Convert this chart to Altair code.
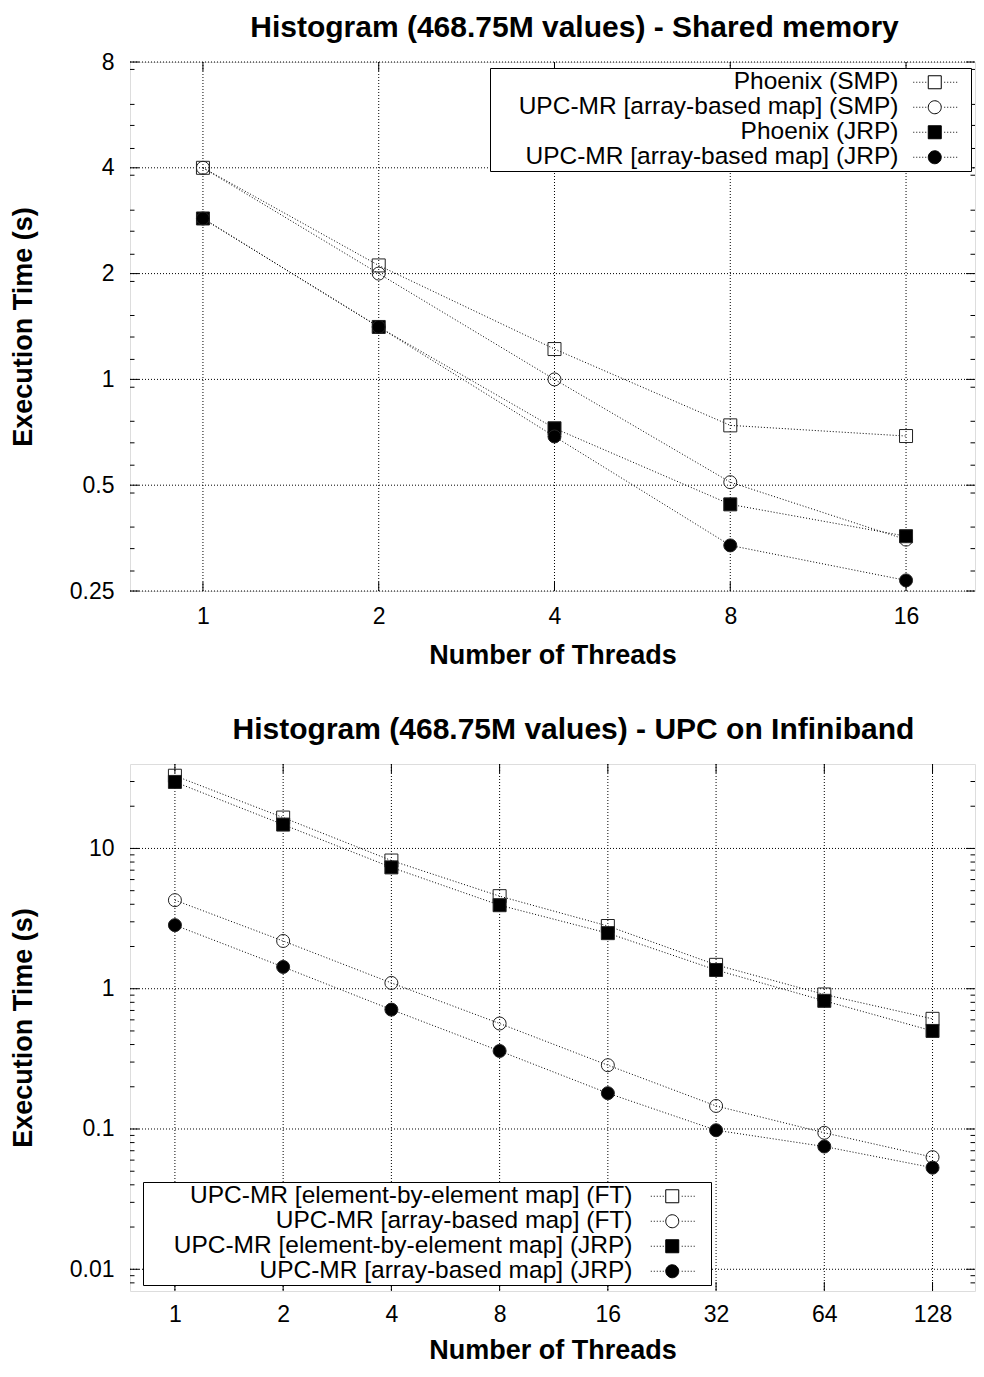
import altair as alt
import pandas as pd

FONT = "Liberation Sans"

# ---------------- data: top panel (shared memory) ----------------
top_threads = [1, 2, 4, 8, 16]
top_series = [
    "Phoenix (SMP)",
    "UPC-MR [array-based map] (SMP)",
    "Phoenix (JRP)",
    "UPC-MR [array-based map] (JRP)",
]
phoenix_smp = [4.0, 2.11, 1.22, 0.74, 0.69]
upc_smp = [4.0, 2.0, 1.0, 0.51, 0.35]
phoenix_jrp = [2.87, 1.41, 0.726, 0.441, 0.358]
upc_jrp = [2.87, 1.41, 0.688, 0.337, 0.268]
top_values = [phoenix_smp, upc_smp, phoenix_jrp, upc_jrp]

top_xticks = [1, 2, 4, 8, 16]
top_yticks = [0.25, 0.5, 1, 2, 4, 8]
top_yminor = [7.62, 6.06, 5.28, 4.54, 3.81, 3.03, 2.64, 2.27, 1.90, 1.52, 1.32, 1.14,
              0.95, 0.76, 0.66, 0.57, 0.475, 0.38, 0.33, 0.285]

# ---------------- data: bottom panel (UPC on Infiniband) ----------------
bot_threads = [1, 2, 4, 8, 16, 32, 64, 128]
bot_series = [
    "UPC-MR [element-by-element map] (FT)",
    "UPC-MR [array-based map] (FT)",
    "UPC-MR [element-by-element map] (JRP)",
    "UPC-MR [array-based map] (JRP)",
]
elem_ft = [33.0, 16.6, 8.2, 4.57, 2.8, 1.48, 0.91, 0.61]
array_ft = [4.28, 2.19, 1.10, 0.565, 0.285, 0.146, 0.094, 0.063]
elem_jrp = [29.8, 14.8, 7.33, 3.94, 2.49, 1.36, 0.82, 0.50]
array_jrp = [2.84, 1.43, 0.71, 0.36, 0.18, 0.098, 0.075, 0.053]
bot_values = [elem_ft, array_ft, elem_jrp, array_jrp]

bot_xticks = [1, 2, 4, 8, 16, 32, 64, 128]
bot_yticks = [0.01, 0.1, 1, 10]
bot_yminor = [0.008, 0.009, 0.02, 0.03, 0.04, 0.05, 0.06, 0.07, 0.08, 0.09,
              0.2, 0.3, 0.4, 0.5, 0.6, 0.7, 0.8, 0.9,
              2, 3, 4, 5, 6, 7, 8, 9, 20, 30]

SHAPES = ["square", "circle", "square", "circle"]
FILLS = ["transparent", "transparent", "black", "black"]


def legend_paths(ext):
    dots = "".join(f"M{x},0h0.15" for x in [-3.3, -2.84, -2.38, -1.92, -1.46, 1.46, 1.92, 2.38, 2.84, 3.3])
    sq = "M-1,-1H1V1H-1Z" + dots + f"M{ext},0"
    ci = "M1,0A1,1,0,1,1,-1,0A1,1,0,1,1,1,0Z" + dots + f"M{ext},0"
    return [sq, ci, sq, ci]


def panel(title, threads, series, values, xdom, ydom, ybase, xticks, yticks, yminor,
          W, H, leg_x, leg_y, label_off, sym_off, ext, title_offset, title_dx,
          x_label_pad, x_title_pad):
    rows = []
    for s, vals in zip(series, values):
        for t, v in zip(threads, vals):
            rows.append({"threads": t, "time": v, "series": s})
    df = pd.DataFrame(rows)

    xs = alt.Scale(type="log", base=2, domain=xdom, nice=False)
    ys = alt.Scale(type="log", base=ybase, domain=ydom, nice=False)
    xaxis = alt.Axis(values=xticks, grid=False, ticks=False, tickSize=0, domain=False,
                     labelFont=FONT, labelFontSize=23, labelColor="black", labelPadding=x_label_pad,
                     labelFlush=False, labelOverlap=False, format="~g",
                     title="Number of Threads", titleFont=FONT, titleFontSize=27,
                     titleFontWeight="bold", titleColor="black", titlePadding=x_title_pad)
    yaxis = alt.Axis(values=yticks, grid=False, ticks=False, tickSize=0, domain=False,
                     labelFont=FONT, labelFontSize=23, labelColor="black", labelPadding=16,
                     labelOverlap=False, format="~g",
                     title="Execution Time (s)", titleFont=FONT, titleFontSize=27,
                     titleFontWeight="bold", titleColor="black", titlePadding=32)

    def X(f):
        return alt.X(f"{f}:Q", scale=xs, axis=xaxis)

    def Y(f):
        return alt.Y(f"{f}:Q", scale=ys, axis=yaxis)

    ymaj = pd.DataFrame({"v": yticks})
    ymin = pd.DataFrame({"v": yminor})
    xmaj = pd.DataFrame({"v": xticks})

    grid_style = dict(color="black", strokeWidth=1, strokeDash=[1, 2])
    ygrid = alt.Chart(ymaj).mark_rule(**grid_style).encode(
        y=Y("v"), x=alt.value(0), x2=alt.value(W))
    xgrid = alt.Chart(xmaj).mark_rule(**grid_style).encode(
        x=X("v"), y=alt.value(0), y2=alt.value(H))

    lines = alt.Chart(df).mark_line(color="black", strokeWidth=1, strokeDash=[1, 2]).encode(
        x=X("threads"), y=Y("time"), detail="series:N",
        order=alt.Order("threads:Q"))

    points = alt.Chart(df).mark_point(size=169, opacity=1, stroke="#222", strokeWidth=1).encode(
        x=X("threads"), y=Y("time"),
        shape=alt.Shape("series:N", scale=alt.Scale(domain=series, range=SHAPES), legend=None),
        fill=alt.Fill("series:N", scale=alt.Scale(domain=series, range=FILLS), legend=None),
    )

    leg = alt.Legend(orient="none", legendX=leg_x, legendY=leg_y, title=None,
                     labelAlign="right", labelOffset=alt.ExprRef(expr=str(label_off)),
                     symbolOffset=sym_off,
                     labelFont=FONT, labelFontSize=24.5, labelColor="black", labelLimit=2000,
                     symbolSize=169, symbolStrokeWidth=1, symbolStrokeColor="black",
                     symbolOpacity=1, padding=2, rowPadding=0,
                     fillColor="white", strokeColor="black")
    legend_layer = alt.Chart(df).mark_point(size=169, opacity=1, stroke="black", strokeWidth=1).encode(
        shape=alt.Shape("series:N", scale=alt.Scale(domain=series, range=legend_paths(ext)), legend=leg),
        fill=alt.Fill("series:N", scale=alt.Scale(domain=series, range=FILLS), legend=leg),
        stroke=alt.Stroke("series:N", scale=alt.Scale(domain=series, range=["black"] * 4), legend=leg),
    ).transform_filter("false")

    tick_style = dict(color="black", strokeWidth=1)
    L, m = 9, 4.5
    ticks = [
        alt.Chart(ymaj).mark_rule(**tick_style).encode(y=Y("v"), x=alt.value(0), x2=alt.value(L)),
        alt.Chart(ymaj).mark_rule(**tick_style).encode(y=Y("v"), x=alt.value(W - L), x2=alt.value(W)),
        alt.Chart(ymin).mark_rule(**tick_style).encode(y=Y("v"), x=alt.value(0), x2=alt.value(m)),
        alt.Chart(ymin).mark_rule(**tick_style).encode(y=Y("v"), x=alt.value(W - m), x2=alt.value(W)),
        alt.Chart(xmaj).mark_rule(**tick_style).encode(x=X("v"), y=alt.value(H - L), y2=alt.value(H)),
        alt.Chart(xmaj).mark_rule(**tick_style).encode(x=X("v"), y=alt.value(0), y2=alt.value(L)),
    ]

    return alt.layer(ygrid, xgrid, lines, points, legend_layer, *ticks).resolve_scale(
        shape="independent", fill="independent", stroke="independent"
    ).properties(
        width=W, height=H,
        title=alt.TitleParams(title, font=FONT, fontSize=30, fontWeight="bold", color="black",
                              anchor="middle", dx=title_dx, offset=title_offset),
    )


top = panel("Histogram (468.75M values) - Shared memory", top_threads, top_series, top_values,
            [0.75, 21], [0.25, 8], 2, top_xticks, top_yticks, top_yminor,
            845, 529, 360, 6, -48.5, 430.5, 4.9, 8, 22, 14, 14)
bottom = panel("Histogram (468.75M values) - UPC on Infiniband", bot_threads, bot_series, bot_values,
               [0.75, 168], [0.007, 40], 10, bot_xticks, bot_yticks, bot_yminor,
               845, 527, 13, 418, -52, 515, 5.24, 19, 21, 12, 11)

chart = alt.vconcat(top, bottom, spacing=45).properties(
    padding={"left": 0, "top": 4, "right": 0, "bottom": 0}
).configure_view(stroke="black", strokeWidth=1.5).configure(background="white")

chart.save("out.html", embed_options={"renderer": "svg", "actions": False})
